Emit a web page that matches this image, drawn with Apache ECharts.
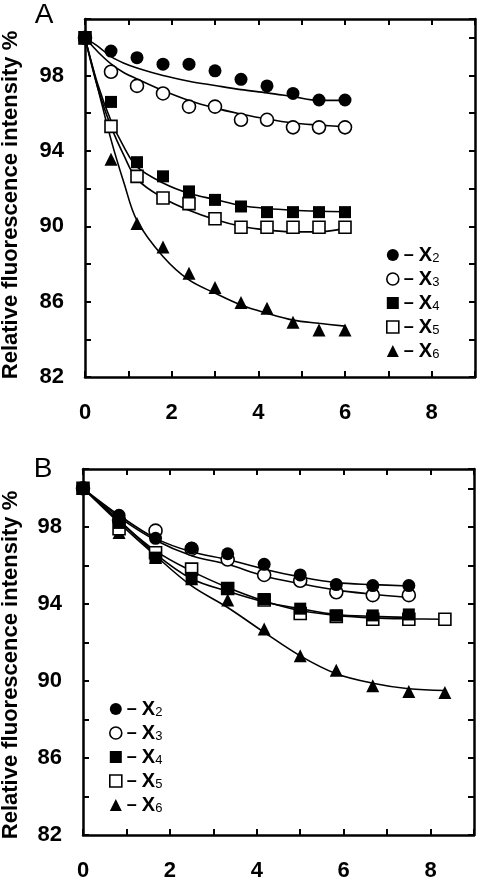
<!DOCTYPE html>
<html>
<head>
<meta charset="utf-8">
<script src="https://cdn.jsdelivr.net/npm/echarts@6/dist/echarts.min.js"></script>
<style>
html,body{margin:0;padding:0;background:#fff;}
#chart{width:483px;height:882px;}
</style>
</head>
<body>
<div id="chart"></div>
<script>
// ---------- Data (panel A) ----------
var timeA = [0, 0.6, 1.2, 1.8, 2.4, 3, 3.6, 4.2, 4.8, 5.4, 6];
var A_X2 = [100, 99.3, 98.95, 98.6, 98.6, 98.25, 97.8, 97.45, 97.05, 96.7, 96.7];
var A_X3 = [100, 98.2, 97.45, 97.05, 96.35, 96.35, 95.65, 95.65, 95.25, 95.25, 95.25];
var A_X4 = [100, 96.6, 93.4, 92.65, 91.85, 91.4, 91.05, 90.75, 90.75, 90.75, 90.75];
var A_X5 = [100, 95.3, 92.65, 91.5, 91.2, 90.4, 89.95, 89.95, 89.95, 89.95, 89.95];
var A_X6 = [100, 93.55, 90.15, 88.9, 87.5, 86.75, 85.95, 85.65, 84.9, 84.5, 84.5];

// fitted curves (panel A)
var fitTimeA = [0, 0.3, 0.6, 0.9, 1.2, 1.8, 2.4, 3, 3.6, 4.2, 4.8, 5.4, 6];
var fitA_X2 = [100, 99.55, 99.0, 98.65, 98.4, 98.0, 97.7, 97.47, 97.25, 97.08, 96.88, 96.68, 96.68];
var fitA_X3 = [100, 99.25, 98.62, 98.15, 97.82, 97.2, 96.67, 96.27, 95.96, 95.69, 95.48, 95.37, 95.28];
var fitA_X4 = [100, 97.5, 95.6, 94.2, 93.15, 92.3, 91.75, 91.42, 91.1, 90.94, 90.85, 90.8, 90.77];
var fitA_X5 = [100, 97.3, 95.3, 93.75, 92.5, 91.5, 90.85, 90.36, 90.0, 89.8, 89.7, 89.7, 89.9];
var fitA_X6 = [100, 97.3, 94.6, 92.3, 90.3, 88.4, 87.15, 86.45, 85.82, 85.38, 85.02, 84.85, 84.7];

// ---------- Data (panel B) ----------
var timeB = [0, 0.83, 1.67, 2.5, 3.33, 4.17, 5, 5.83, 6.67, 7.5, 8.33];
var B_X2 = [100, 98.6, 97.4, 96.9, 96.6, 96.05, 95.5, 95.0, 94.95, 94.95];
var B_X3 = [100, 98.35, 97.8, 96.85, 96.3, 95.5, 95.2, 94.6, 94.45, 94.45];
var B_X4 = [100, 98.2, 96.4, 95.35, 94.8, 94.25, 93.75, 93.4, 93.4, 93.45];
var B_X5 = [100, 97.9, 96.65, 95.8, 94.8, 94.2, 93.5, 93.35, 93.2, 93.2, 93.2];
var B_X6 = [100, 97.7, 96.4, 95.3, 94.2, 92.7, 91.3, 90.55, 89.75, 89.45, 89.4];

var fitB_X2 = [100, 98.6, 97.4, 96.7, 96.3, 95.8, 95.4, 95.1, 95.0, 94.93];
var fitB_X3 = [100, 98.5, 97.3, 96.5, 96.05, 95.45, 95.05, 94.71, 94.5, 94.33];
var fitB_X4 = [100, 98.35, 96.6, 95.3, 94.65, 94.1, 93.75, 93.45, 93.35, 93.3];
var fitB_X5 = [100, 98.3, 96.75, 95.7, 94.85, 94.15, 93.65, 93.4, 93.27, 93.22, 93.2];
var fitB_X6 = [100, 98.2, 96.5, 94.93, 93.81, 92.52, 91.3, 90.37, 89.88, 89.59, 89.5];

var seriesNames = ['X2', 'X3', 'X4', 'X5', 'X6'];
var xTicks = [0, 2, 4, 6, 8];
var yTicks = [82, 86, 90, 94, 98];
var yTitle = 'Relative fluorescence intensity %';
var panelLabels = ['A', 'B'];

// ---------- Chart ----------
var FONT = '"Liberation Sans", Arial, Helvetica, sans-serif';
var chart = echarts.init(document.getElementById('chart'), null, {renderer: 'canvas'});

function pairs(xs, ys) {
  var out = [];
  for (var i = 0; i < ys.length; i++) out.push([xs[i], ys[i]]);
  return out;
}

// drawing order: filled squares on top, filled circles over open circles, open squares over triangles
var styles = {
  X2: {symbol: 'circle', size: 13, z: 8, item: {color: '#000', borderColor: '#000', borderWidth: 0, opacity: 1}},
  X3: {symbol: 'circle', size: 13, z: 6, item: {color: '#fff', borderColor: '#000', borderWidth: 1.6, opacity: 1}},
  X4: {symbol: 'rect', size: 12, z: 9, item: {color: '#000', borderColor: '#000', borderWidth: 0, opacity: 1}},
  X5: {symbol: 'rect', size: 12, z: 5, item: {color: '#fff', borderColor: '#000', borderWidth: 1.6, opacity: 1}},
  X6: {symbol: 'triangle', size: 13, z: 4, item: {color: '#000', borderColor: '#000', borderWidth: 0, opacity: 1}}
};

function xAxisCfg(gi, pos, labels) {
  return {
    type: 'value', gridIndex: gi, position: pos, min: 0, max: 9, interval: 1,
    axisLine: {show: true, onZero: false, lineStyle: {color: '#000', width: 2.5}},
    axisTick: {show: true, inside: true, length: 6, lineStyle: {color: '#000', width: 2}},
    axisLabel: {
      show: labels, margin: 25, fontSize: 22, fontWeight: 'bold', color: '#000', fontFamily: FONT,
      formatter: function (v) { return xTicks.indexOf(v) >= 0 ? String(v) : ''; }
    },
    splitLine: {show: false}
  };
}
function yAxisCfg(gi, pos, labels) {
  return {
    type: 'value', gridIndex: gi, position: pos, min: 82, max: 101, interval: 2,
    axisLine: {show: true, onZero: false, lineStyle: {color: '#000', width: 2.5}},
    axisTick: {show: true, inside: true, length: 6, lineStyle: {color: '#000', width: 2}},
    axisLabel: {
      show: labels, margin: 21, fontSize: 22, fontWeight: 'bold', color: '#000', fontFamily: FONT,
      formatter: function (v) { return yTicks.indexOf(v) >= 0 ? String(v) : ''; }
    },
    splitLine: {show: false}
  };
}

var series = [];
function addPanel(p, tPts, pts, tFit, fits) {
  var axisBase = p * 2;
  for (var i = 0; i < 5; i++) {
    series.push({
      type: 'line', name: 'fit' + p + i, xAxisIndex: axisBase, yAxisIndex: axisBase,
      data: pairs(tFit[i], fits[i]), smooth: 0.35, showSymbol: false, symbol: 'none',
      lineStyle: {color: '#000', width: 1.6}, z: 2, silent: true
    });
  }
  for (var j = 0; j < 5; j++) {
    var s = styles[seriesNames[j]];
    series.push({
      type: 'scatter', name: seriesNames[j], xAxisIndex: axisBase, yAxisIndex: axisBase,
      data: pairs(tPts, pts[j]), symbol: s.symbol, symbolSize: s.size,
      itemStyle: s.item, z: s.z, emphasis: {disabled: true}
    });
  }
}
addPanel(0, timeA, [A_X2, A_X3, A_X4, A_X5, A_X6], [fitTimeA, fitTimeA, fitTimeA, fitTimeA, fitTimeA],
  [fitA_X2, fitA_X3, fitA_X4, fitA_X5, fitA_X6]);
addPanel(1, timeB, [B_X2, B_X3, B_X4, B_X5, B_X6], [timeB, timeB, timeB, timeB, timeB],
  [fitB_X2, fitB_X3, fitB_X4, fitB_X5, fitB_X6]);

function legendCfg(left, top) {
  return {
    orient: 'vertical', left: left, top: top, itemGap: 4, itemWidth: 12, itemHeight: 12,
    selectedMode: false,
    data: seriesNames.map(function (n) {
      return {name: n, icon: styles[n].symbol, itemStyle: styles[n].item};
    }),
    formatter: function (name) { return '{d|\u2013 }{x|X}{s|' + name.slice(1) + '}'; },
    textStyle: {
      color: '#000', fontFamily: FONT,
      rich: {
        d: {fontSize: 18, fontWeight: 'bold', fontFamily: FONT, lineHeight: 20, color: '#000'},
        x: {fontSize: 20, fontWeight: 'bold', fontFamily: FONT, lineHeight: 20, color: '#000'},
        s: {fontSize: 13, fontWeight: 'normal', fontFamily: FONT, lineHeight: 12, verticalAlign: 'bottom', color: '#000'}
      }
    }
  };
}

var option = {
  animation: false,
  backgroundColor: '#fff',
  grid: [
    {left: 85, top: 19, width: 390, height: 358},
    {left: 83, top: 469, width: 391, height: 366}
  ],
  xAxis: [xAxisCfg(0, 'bottom', true), xAxisCfg(0, 'top', false), xAxisCfg(1, 'bottom', true), xAxisCfg(1, 'top', false)],
  yAxis: [yAxisCfg(0, 'left', true), yAxisCfg(0, 'right', false), yAxisCfg(1, 'left', true), yAxisCfg(1, 'right', false)],
  legend: [legendCfg(381, 240), legendCfg(104, 694)],
  graphic: [
    {type: 'text', x: 44, y: 15, style: {text: panelLabels[0], font: '28px ' + FONT, fill: '#000', textAlign: 'center', textVerticalAlign: 'middle', align: 'center', verticalAlign: 'middle'}},
    {type: 'text', x: 43, y: 469, style: {text: panelLabels[1], font: '28px ' + FONT, fill: '#000', textAlign: 'center', textVerticalAlign: 'middle', align: 'center', verticalAlign: 'middle'}},
    {type: 'text', x: 11, y: 205, rotation: Math.PI / 2, style: {text: yTitle, font: 'bold 22px ' + FONT, fill: '#000', textAlign: 'center', textVerticalAlign: 'middle', align: 'center', verticalAlign: 'middle'}},
    {type: 'text', x: 11, y: 665, rotation: Math.PI / 2, style: {text: yTitle, font: 'bold 22px ' + FONT, fill: '#000', textAlign: 'center', textVerticalAlign: 'middle', align: 'center', verticalAlign: 'middle'}}
  ],
  series: series
};
chart.setOption(option);
</script>
</body>
</html>
